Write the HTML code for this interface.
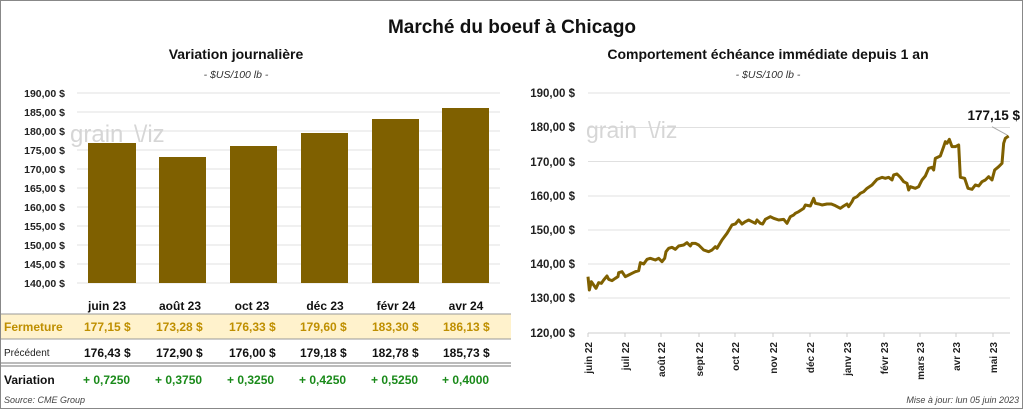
<!DOCTYPE html>
<html><head><meta charset="utf-8"><style>
body{margin:0;background:#fff;}
svg text{font-family:"Liberation Sans",sans-serif;}
</style></head><body>
<svg width="1024" height="410" viewBox="0 0 1024 410" xmlns="http://www.w3.org/2000/svg">
<rect x="0.5" y="0.5" width="1022" height="408" fill="#fff" stroke="#888"/>
<text x="512" y="33" text-anchor="middle" font-size="19" font-weight="bold" fill="#111">Marché du boeuf à Chicago</text>
<text x="236" y="59" text-anchor="middle" font-size="14" font-weight="bold" fill="#111">Variation  journalière</text>
<text x="236" y="78" text-anchor="middle" font-size="10.5" font-style="italic" fill="#333">- $US/100 lb -</text>
<text x="768" y="59" text-anchor="middle" font-size="14" font-weight="bold" fill="#111">Comportement  échéance immédiate depuis 1 an</text>
<text x="768" y="78" text-anchor="middle" font-size="10.5" font-style="italic" fill="#333">- $US/100 lb -</text>
<g stroke="#e0e0e0" stroke-width="1">
<line x1="77" x2="500" y1="93" y2="93"/><line x1="77" x2="500" y1="112" y2="112"/><line x1="77" x2="500" y1="131" y2="131"/><line x1="77" x2="500" y1="150" y2="150"/><line x1="77" x2="500" y1="169" y2="169"/><line x1="77" x2="500" y1="188" y2="188"/><line x1="77" x2="500" y1="207" y2="207"/><line x1="77" x2="500" y1="226" y2="226"/><line x1="77" x2="500" y1="245" y2="245"/><line x1="77" x2="500" y1="264" y2="264"/><line x1="77" x2="500" y1="283" y2="283"/>
</g>
<g font-size="10.5" font-weight="bold" fill="#222" text-anchor="end">
<text x="65" y="97">190,00 $</text><text x="65" y="116">185,00 $</text><text x="65" y="135">180,00 $</text><text x="65" y="154">175,00 $</text><text x="65" y="173">170,00 $</text><text x="65" y="192">165,00 $</text><text x="65" y="211">160,00 $</text><text x="65" y="230">155,00 $</text><text x="65" y="249">150,00 $</text><text x="65" y="268">145,00 $</text><text x="65" y="287">140,00 $</text>
</g>
<text x="70" y="142" font-size="24" fill="#d6d6d6">grain</text><text x="134" y="142" font-size="24" fill="#d6d6d6">\/iz</text>
<g fill="#7f6000">
<rect x="88" y="143" width="48" height="140"/><rect x="159" y="157" width="47" height="126"/><rect x="230" y="146" width="47" height="137"/><rect x="301" y="133" width="47" height="150"/><rect x="372" y="119" width="47" height="164"/><rect x="442" y="108" width="47" height="175"/>
</g>
<g font-size="12" font-weight="bold" fill="#111" text-anchor="middle">
<text x="107" y="310">juin 23</text><text x="180" y="310">août 23</text><text x="252" y="310">oct 23</text><text x="325" y="310">déc 23</text><text x="396" y="310">févr 24</text><text x="466" y="310">avr 24</text>
</g>
<rect x="1" y="314" width="510" height="25" fill="#fff2cc"/>
<line x1="1" x2="511" y1="314" y2="314" stroke="#999"/>
<line x1="1" x2="511" y1="339" y2="339" stroke="#999"/>
<line x1="1" x2="511" y1="363" y2="363" stroke="#777"/>
<line x1="1" x2="511" y1="366" y2="366" stroke="#777"/>
<g font-size="12" font-weight="bold" fill="#bf8f00">
<text x="4" y="331">Fermeture</text>
<text x="84" y="331">177,15  $</text><text x="156" y="331">173,28  $</text><text x="229" y="331">176,33  $</text><text x="300" y="331">179,60  $</text><text x="372" y="331">183,30  $</text><text x="443" y="331">186,13  $</text>
</g>
<text x="4" y="356" font-size="10" fill="#222">Précédent</text>
<g font-size="12" font-weight="bold" fill="#111">
<text x="84" y="357">176,43  $</text><text x="156" y="357">172,90  $</text><text x="229" y="357">176,00  $</text><text x="300" y="357">179,18  $</text><text x="372" y="357">182,78  $</text><text x="443" y="357">185,73  $</text>
<text x="4" y="384">Variation</text>
</g>
<g font-size="12" font-weight="bold" fill="#1a8a1a">
<text x="83" y="384">+ 0,7250</text><text x="155" y="384">+ 0,3750</text><text x="227" y="384">+ 0,3250</text><text x="299" y="384">+ 0,4250</text><text x="371" y="384">+ 0,5250</text><text x="442" y="384">+ 0,4000</text>
</g>
<text x="4" y="403" font-size="9" font-style="italic" fill="#444">Source: CME Group</text>
<text x="1019" y="403" font-size="9" font-style="italic" fill="#444" text-anchor="end">Mise à jour: lun 05 juin 2023</text>
<g stroke="#e0e0e0">
<line x1="588" x2="1010" y1="93" y2="93"/><line x1="588" x2="1010" y1="127.5" y2="127.5"/><line x1="588" x2="1010" y1="161.5" y2="161.5"/><line x1="588" x2="1010" y1="196" y2="196"/><line x1="588" x2="1010" y1="230" y2="230"/><line x1="588" x2="1010" y1="264" y2="264"/><line x1="588" x2="1010" y1="298" y2="298"/>
</g>
<line x1="588" x2="1010" y1="333" y2="333" stroke="#ccc"/>
<g stroke="#ccc"><line x1="588" x2="588" y1="333" y2="337"/><line x1="625" x2="625" y1="333" y2="337"/><line x1="661" x2="661" y1="333" y2="337"/><line x1="699" x2="699" y1="333" y2="337"/><line x1="735" x2="735" y1="333" y2="337"/><line x1="773" x2="773" y1="333" y2="337"/><line x1="810" x2="810" y1="333" y2="337"/><line x1="847" x2="847" y1="333" y2="337"/><line x1="884" x2="884" y1="333" y2="337"/><line x1="920" x2="920" y1="333" y2="337"/><line x1="956" x2="956" y1="333" y2="337"/><line x1="993" x2="993" y1="333" y2="337"/></g>
<g font-size="11.5" font-weight="bold" fill="#222" text-anchor="end">
<text x="575" y="97">190,00 $</text><text x="575" y="131">180,00 $</text><text x="575" y="166">170,00 $</text><text x="575" y="200">160,00 $</text><text x="575" y="234">150,00 $</text><text x="575" y="268">140,00 $</text><text x="575" y="302">130,00 $</text><text x="575" y="337">120,00 $</text>
</g>
<g font-size="10" font-weight="bold" fill="#222" text-anchor="end">
<text transform="translate(592,342) rotate(-90)">juin 22</text><text transform="translate(629,342) rotate(-90)">juil 22</text><text transform="translate(665,342) rotate(-90)">août 22</text><text transform="translate(703,342) rotate(-90)">sept 22</text><text transform="translate(739,342) rotate(-90)">oct 22</text><text transform="translate(777,342) rotate(-90)">nov 22</text><text transform="translate(814,342) rotate(-90)">déc 22</text><text transform="translate(851,342) rotate(-90)">janv 23</text><text transform="translate(888,342) rotate(-90)">févr 23</text><text transform="translate(924,342) rotate(-90)">mars 23</text><text transform="translate(960,342) rotate(-90)">avr 23</text><text transform="translate(997,342) rotate(-90)">mai 23</text>
</g>
<text x="586" y="138" font-size="23" fill="#d6d6d6">grain</text><text x="648" y="138" font-size="23" fill="#d6d6d6">\/iz</text>
<g transform="translate(512,80) scale(0.33333)">
<polyline fill="none" stroke="#7f6000" stroke-width="9" stroke-linejoin="round" points="228,590 232,630 238,605 245,615 252,625 260,608 268,610 275,600 285,588 290,598 300,602 310,595 318,590 320,578 330,575 340,590 350,585 360,580 370,575 380,572 385,548 395,552 405,538 415,535 430,540 440,535 450,545 458,535 462,515 470,505 480,502 490,508 500,498 515,495 525,488 535,498 540,490 550,490 560,495 575,510 590,515 600,510 610,500 615,505 630,480 645,460 660,435 670,432 680,420 690,432 700,425 710,420 720,425 730,430 735,420 745,430 752,432 760,418 775,410 785,415 800,420 815,418 825,430 835,410 845,405 850,400 860,395 875,385 880,375 895,378 905,355 910,370 920,372 930,375 945,372 958,372 970,377 985,385 995,378 1005,372 1010,380 1020,365 1025,355 1035,350 1045,340 1055,335 1065,325 1080,315 1095,298 1110,292 1120,295 1130,292 1140,300 1145,285 1155,282 1165,292 1175,305 1185,310 1190,330 1195,320 1210,325 1220,320 1230,300 1240,288 1250,265 1260,262 1265,270 1270,235 1285,228 1295,200 1300,185 1305,190 1312,178 1320,200 1330,200 1340,195 1345,292 1358,295 1368,325 1380,328 1390,315 1400,318 1410,305 1420,300 1430,290 1440,300 1448,270 1460,260 1470,250 1475,190 1480,175 1490,168"/>
<line x1="1440" y1="140" x2="1485" y2="165" stroke="#aaa" stroke-width="3"/>
</g>
<text x="1020" y="120" font-size="13.5" font-weight="bold" fill="#111" text-anchor="end">177,15 $</text>
</svg>
</body></html>
